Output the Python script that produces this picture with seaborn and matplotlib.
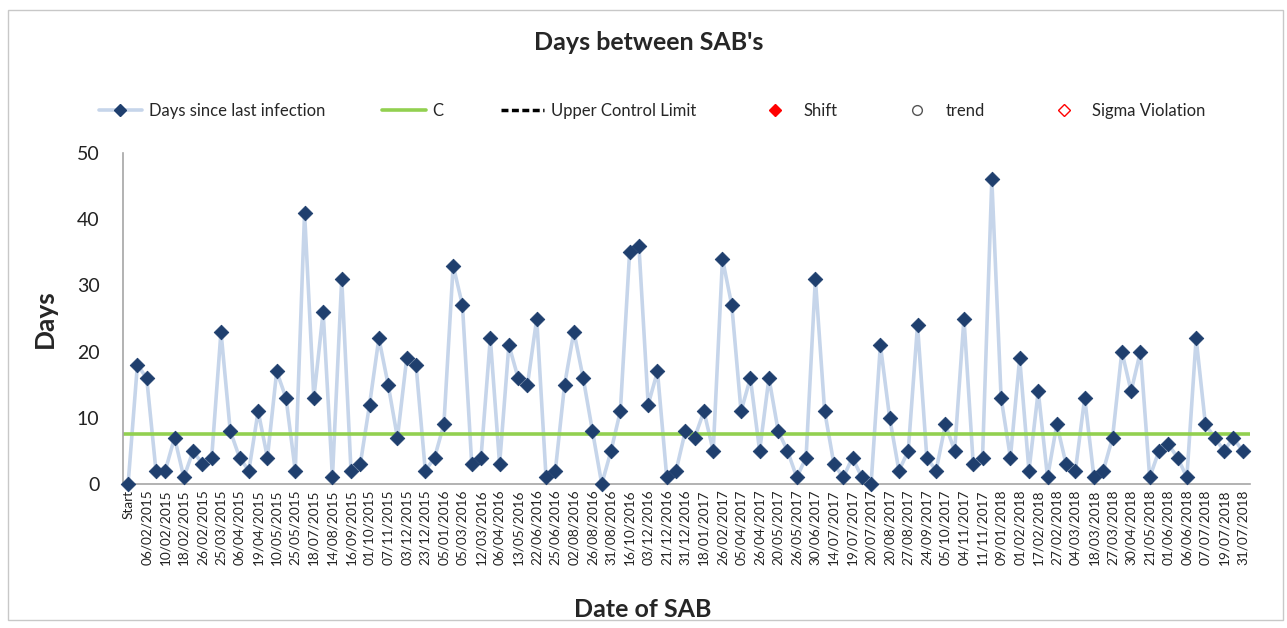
import numpy as np
import pandas as pd
import matplotlib
matplotlib.use('Agg')
import matplotlib.pyplot as plt
import seaborn as sns
from matplotlib.lines import Line2D
from matplotlib.patches import Rectangle

sns.set_style('white')
plt.rcParams['font.family'] = ['Lato', 'DejaVu Sans']

# days since previous SAB, one value per infection
days = [0, 18, 16, 2, 2, 7, 1, 5, 3, 4,
        23, 8, 4, 2, 11, 4, 17, 13, 2, 41,
        13, 26, 1, 31, 2, 3, 12, 22, 15, 7,
        19, 18, 2, 4, 9, 33, 27, 3, 4, 22,
        3, 21, 16, 15, 25, 1, 2, 15, 23, 16,
        8, 0, 5, 11, 35, 36, 12, 17, 1, 2,
        8, 7, 11, 5, 34, 27, 11, 16, 5, 16,
        8, 5, 1, 4, 31, 11, 3, 1, 4, 1,
        0, 21, 10, 2, 5, 24, 4, 2, 9, 5,
        25, 3, 4, 46, 13, 4, 19, 2, 14, 1,
        9, 3, 2, 13, 1, 2, 7, 20, 14, 20,
        1, 5, 6, 4, 1, 22, 9, 7, 5, 7, 5]

# every second point carries a date label
tick_labels = ['Start', '06/02/2015', '10/02/2015', '18/02/2015', '26/02/2015',
               '25/03/2015', '06/04/2015', '19/04/2015', '10/05/2015', '25/05/2015',
               '18/07/2015', '14/08/2015', '16/09/2015', '01/10/2015', '07/11/2015',
               '03/12/2015', '23/12/2015', '05/01/2016', '05/03/2016', '12/03/2016',
               '06/04/2016', '13/05/2016', '22/06/2016', '25/06/2016', '02/08/2016',
               '26/08/2016', '31/08/2016', '16/10/2016', '03/12/2016', '21/12/2016',
               '31/12/2016', '18/01/2017', '26/02/2017', '05/04/2017', '26/04/2017',
               '20/05/2017', '26/05/2017', '30/06/2017', '14/07/2017', '19/07/2017',
               '20/07/2017', '20/08/2017', '27/08/2017', '24/09/2017', '05/10/2017',
               '04/11/2017', '11/11/2017', '09/01/2018', '01/02/2018', '17/02/2018',
               '27/02/2018', '04/03/2018', '18/03/2018', '27/03/2018', '30/04/2018',
               '21/05/2018', '01/06/2018', '06/06/2018', '07/07/2018', '19/07/2018',
               '31/07/2018']

center_line = 7.6

line_col = '#C6D5EA'
marker_col = '#1F3F6E'
green = '#92D050'

df = pd.DataFrame({'point': np.arange(len(days)), 'days': days})

fig = plt.figure(figsize=(12.87, 6.28), dpi=100)
ax = fig.add_axes([123 / 1287, 144 / 628, 1127 / 1287, 331 / 628])

sns.lineplot(data=df, x='point', y='days', ax=ax, color=line_col,
             linewidth=2.6, zorder=1)
ax.axhline(center_line, color=green, linewidth=2.6, zorder=2)
sns.scatterplot(data=df, x='point', y='days', ax=ax, marker='D', s=55,
                color=marker_col, edgecolor=marker_col, zorder=3, clip_on=False)

ax.set_xlim(-0.55, 120.8)
ax.set_ylim(0, 50)
ax.set_yticks(range(0, 51, 10))
ax.set_xticks(range(0, len(days), 2))
ax.set_xticklabels(tick_labels, rotation=90, fontsize=9.8, color='#222222')
ax.tick_params(axis='y', labelsize=14, colors='#222222', length=0, pad=17)
ax.tick_params(axis='x', length=0, pad=4)

for side in ['top', 'right']:
    ax.spines[side].set_visible(False)
for side in ['left', 'bottom']:
    ax.spines[side].set_color('#A6A6A6')
    ax.spines[side].set_linewidth(1.2)

ax.set_ylabel('Days', fontsize=19, fontweight='bold')
ax.yaxis.set_label_coords(-0.059, 0.5)
ax.set_xlabel('Date of SAB', fontsize=18, fontweight='bold')
ax.xaxis.set_label_coords(0.4615, -0.345)

fig.text(649 / 1287, 1 - 43 / 628, "Days between SAB's", ha='center', va='center',
         fontsize=18, fontweight='bold')

handles = [
    Line2D([0], [0], color=line_col, lw=2.6, marker='D', ms=6,
           markerfacecolor=marker_col, markeredgecolor=marker_col),
    Line2D([0], [0], color=green, lw=2.6),
    Line2D([0], [0], color='black', lw=2.5, linestyle=(0, (2, 1))),
    Line2D([0], [0], color='red', lw=0, marker='D', ms=6),
    Line2D([0], [0], color='#555555', lw=0, marker='o', ms=7,
           markerfacecolor='white'),
    Line2D([0], [0], color='red', lw=0, marker='D', ms=6,
           markerfacecolor='white'),
]
names = ['Days since last infection', 'C', 'Upper Control Limit', 'Shift',
         'trend', 'Sigma Violation']
fig.legend(handles, names, loc='center', bbox_to_anchor=(652 / 1287, 1 - 111 / 628),
           ncol=6, frameon=False, fontsize=12, columnspacing=3.45,
           handlelength=2.6, handletextpad=0.4)

fig.patches.append(Rectangle((8 / 1287, 8 / 628), 1275 / 1287, 610 / 628,
                             transform=fig.transFigure, fill=False,
                             edgecolor='#C8C8C8', linewidth=1))

fig.savefig('out.png', dpi=100)
